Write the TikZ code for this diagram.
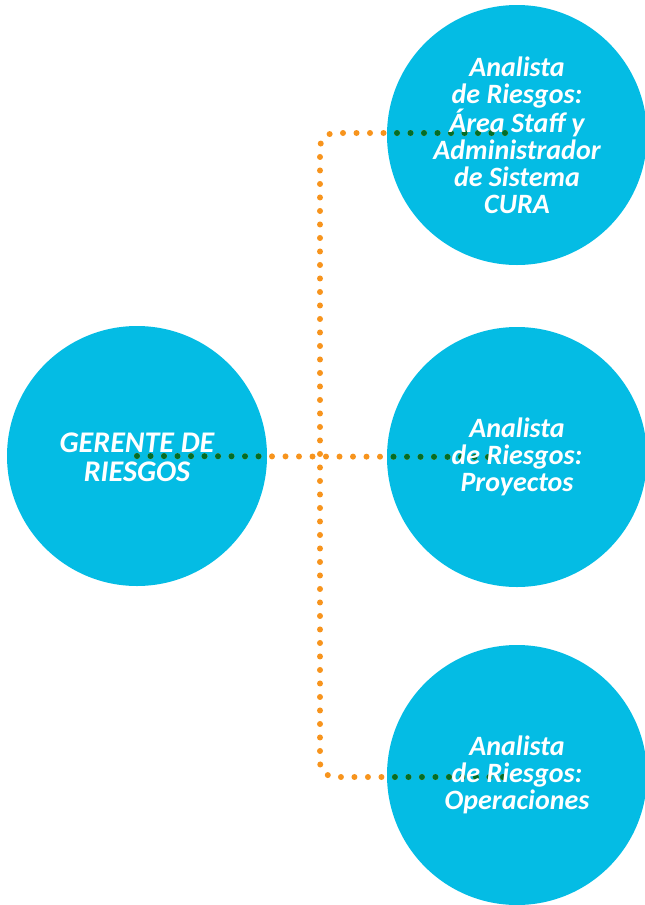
\documentclass[tikz,border=0pt]{standalone}
\usepackage{fontspec}
\setmainfont{Carlito}
\definecolor{circblue}{RGB}{4,188,228}
\definecolor{dotorange}{RGB}{247,148,29}
\definecolor{dotgreen}{RGB}{0,110,40}
\begin{document}
\begin{tikzpicture}[x=1pt,y=1pt,
  circ/.style={circle,fill=circblue,minimum size=260pt,inner sep=0pt,
    text=white,align=center,font=\fontsize{28}{27}\selectfont\bfseries\itshape},
  dots/.style={line width=6pt,line cap=round,dash pattern=on 0pt off 13.5pt,rounded corners=15pt}]

\useasboundingbox (0,0) rectangle (645,-905);

%CIRCLES
\node[circ] (gerente) at (137,-456) {};
\node[circ] (staff) at (517,-135) {};
\node[circ] (proy) at (517,-457) {};
\node[circ] (oper) at (517,-775) {};

%CONNECTORS
\coordinate (g0) at (gerente.center);
\coordinate (p0) at (488,-457);
\coordinate (s0) at (505,-133);
\coordinate (o0) at (505,-777);
\coordinate (tl) at (320,-133);
\coordinate (bl) at (320,-777);

% orange outside the circles
\draw[dots,dotorange] (g0) -- (p0);
\draw[dots,dotorange] (s0) -- (tl) -- (bl) -- (o0);
% green where they run over the circles
\begin{scope}
\clip (gerente.center) circle (130) (staff.center) circle (130)
      (proy.center) circle (130) (oper.center) circle (130);
\draw[dots,dotgreen] (g0) -- (p0);
\draw[dots,dotgreen] (s0) -- (tl) -- (bl) -- (o0);
\end{scope}

%TEXT on top of the dots
\node[circ,fill=none,font=\fontsize{30}{29}\selectfont\bfseries\itshape] (gerentetxt) at ([yshift=-1pt]gerente.center) {GERENTE DE\\RIESGOS};
\node[circ,fill=none] (stafftxt) at (staff) {Analista\\de Riesgos:\\Área Staff y\\Administrador\\de Sistema\\CURA};
\node[circ,fill=none] (proytxt) at (proy) {Analista\\de Riesgos:\\Proyectos};
\node[circ,fill=none] (opertxt) at (oper) {Analista\\de Riesgos:\\Operaciones};

\end{tikzpicture}
\end{document}
